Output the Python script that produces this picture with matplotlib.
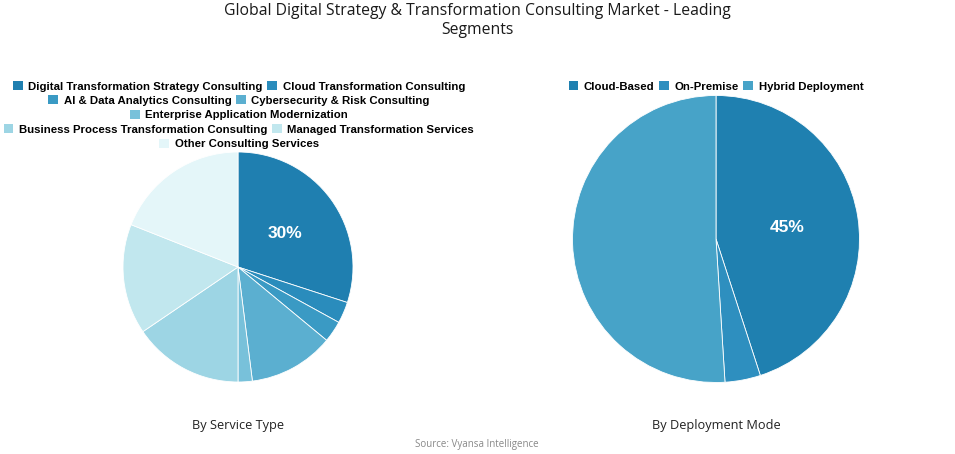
import matplotlib
matplotlib.use("Agg")
import matplotlib.pyplot as plt
from matplotlib.patches import Rectangle

# Data
service_labels = [
    "Digital Transformation Strategy Consulting",
    "Cloud Transformation Consulting",
    "AI & Data Analytics Consulting",
    "Cybersecurity & Risk Consulting",
    "Enterprise Application Modernization",
    "Business Process Transformation Consulting",
    "Managed Transformation Services",
    "Other Consulting Services",
]
service_values = [30, 3, 3, 12, 2, 15.5, 15.5, 19]
service_colors = ["#1f7fb0", "#2a8cbc", "#3a9ac4", "#5bafd0", "#78c1da",
                  "#9dd5e4", "#c1e7ee", "#e4f6f9"]

deploy_labels = ["Cloud-Based", "On-Premise", "Hybrid Deployment"]
deploy_values = [45, 4, 51]
deploy_colors = ["#1f80b0", "#2e8fbf", "#47a3c8"]

W, H = 955, 454
fig = plt.figure(figsize=(W / 100, H / 100), dpi=100)
fig.patch.set_facecolor("white")

TITLE_FONT = "Open Sans"
LEG_FONT = "Liberation Sans"


def px_axes(cx, cy, r):
    # axes box in figure fractions for a pie centred at (cx, cy) px with radius r px
    return [(cx - r) / W, (H - cy - r) / H, 2 * r / W, 2 * r / H]


def draw_pie(rect, values, colors):
    ax = fig.add_axes(rect)
    first = [True]

    def fmt(p):
        if first[0]:
            first[0] = False
            return "%d%%" % round(p)
        return ""

    wedges, texts, autotexts = ax.pie(
        values, colors=colors, startangle=90, counterclock=False,
        autopct=fmt, pctdistance=0.5, radius=1.0,
        wedgeprops=dict(edgecolor="white", linewidth=0.6))
    for t in autotexts:
        t.set_color("white")
        t.set_fontsize(12.5)
        t.set_fontweight("bold")
        t.set_family(LEG_FONT)
    ax.set_xlim(-1.0, 1.0)
    ax.set_ylim(-1.0, 1.0)
    ax.set_aspect("equal")
    ax.axis("off")
    return ax


def legend_row(labels, colors, cx, cy):
    handles = [Rectangle((0, 0), 1, 1, facecolor=c, edgecolor="none") for c in colors]
    leg = fig.legend(handles, labels, loc="center", bbox_to_anchor=(cx / W, 1 - cy / H),
                     ncol=len(labels), frameon=False, handlelength=0.85, handleheight=0.85,
                     handletextpad=0.5, columnspacing=0.4, borderpad=0, borderaxespad=0,
                     prop=dict(family=LEG_FONT, weight="bold", size=8.2))
    return leg


draw_pie(px_axes(238, 267, 115), service_values, service_colors)
draw_pie(px_axes(716, 239, 143.5), deploy_values, deploy_colors)

# Left legend laid out in rows like the reference
rows = [[0, 1], [2, 3], [4], [5, 6], [7]]
row_y = [86.5, 100.5, 115, 129.5, 144]
for idx, y in zip(rows, row_y):
    legend_row([service_labels[i] for i in idx], [service_colors[i] for i in idx], 239, y)

legend_row(deploy_labels, deploy_colors, 716, 86.5)

fig.text(0.5, 1 - 11 / H, "Global Digital Strategy & Transformation Consulting Market - Leading",
         ha="center", va="center", fontsize=11.3, family=TITLE_FONT, color="#1a1a1a")
fig.text(0.5, 1 - 30 / H, "Segments", ha="center", va="center", fontsize=11.3,
         family=TITLE_FONT, color="#1a1a1a")

fig.text(238 / W, 1 - 425 / H, "By Service Type", ha="center", va="center",
         fontsize=9.2, family=TITLE_FONT, color="#222222")
fig.text(716 / W, 1 - 425 / H, "By Deployment Mode", ha="center", va="center",
         fontsize=9.2, family=TITLE_FONT, color="#222222")
fig.text(477 / W, 1 - 444 / H, "Source: Vyansa Intelligence", ha="center", va="center",
         fontsize=7, family=TITLE_FONT, color="#888888")

fig.savefig("out.png", dpi=100)
